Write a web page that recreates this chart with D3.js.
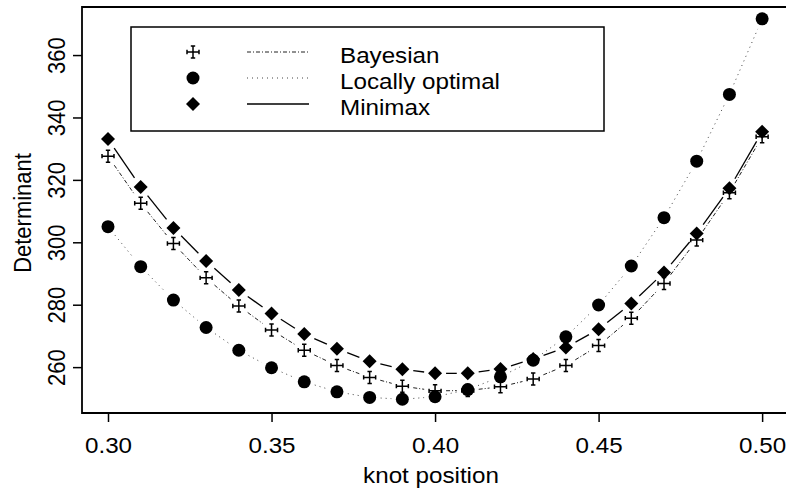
<!DOCTYPE html>
<html>
<head>
<meta charset="utf-8">
<script src="https://cdn.jsdelivr.net/npm/d3@7"></script>
<style>
  body { margin: 0; background: #fff; }
  svg { display: block; font-family: "Liberation Sans", Arial, sans-serif; }
</style>
</head>
<body>
<div id="chart"></div>
<script>
// knot positions and determinant values
const knots = [0.30, 0.31, 0.32, 0.33, 0.34, 0.35, 0.36, 0.37, 0.38, 0.39, 0.40,
               0.41, 0.42, 0.43, 0.44, 0.45, 0.46, 0.47, 0.48, 0.49, 0.50];
const bayesian = [327.6, 312.5, 299.6, 288.6, 279.6, 271.9, 265.4, 260.5, 256.7, 253.9, 252.4,
                  252.5, 253.7, 256.2, 260.5, 266.9, 275.7, 286.8, 300.7, 315.9, 333.8];
const locallyOptimal = [305.0, 292.2, 281.5, 272.7, 265.4, 259.8, 255.3, 252.1, 250.3, 249.7, 250.5,
                        252.8, 256.9, 262.2, 269.7, 279.9, 292.4, 307.9, 326.0, 347.4, 371.6];
const minimax = [333.1, 317.7, 304.6, 294.0, 284.7, 277.2, 270.6, 265.9, 261.9, 259.3, 258.0,
                 258.0, 259.4, 262.6, 266.3, 272.1, 280.4, 290.3, 302.8, 317.3, 335.4];

const xTicks = [0.30, 0.35, 0.40, 0.45, 0.50];
const yTicks = [260, 280, 300, 320, 340, 360];
const seriesNames = ['Bayesian', 'Locally optimal', 'Minimax'];

const width = 786;
const height = 490;
const plot = { left: 82, top: 7, right: 786, bottom: 413 };
const fontSize = '22px';

const svg = d3.select('#chart').append('svg')
  .attr('width', width)
  .attr('height', height);

const xScale = d3.scaleLinear()
  .domain([0.29205, 0.5073])
  .range([plot.left, plot.right]);

const yScale = d3.scaleLinear()
  .domain([245.3, 375.4])
  .range([plot.bottom, plot.top]);

const series = [
  { name: seriesNames[0], values: bayesian, marker: 'cross', dash: '4,2,1,2', color: '#222', width: 1 },
  { name: seriesNames[1], values: locallyOptimal, marker: 'circle', dash: '1,4', color: '#444', width: 1 },
  { name: seriesNames[2], values: minimax, marker: 'diamond', dash: null, color: '#000', width: 1.3 },
];

// axes
const xAxis = svg.append('g')
  .attr('transform', `translate(0, ${plot.bottom})`)
  .call(d3.axisBottom(xScale).tickValues(xTicks).tickFormat(d3.format('.2f')).tickSize(9).tickSizeOuter(0));
xAxis.select('.domain').remove();
xAxis.selectAll('line').attr('stroke', '#000').attr('stroke-width', 1.5);
xAxis.selectAll('text')
  .attr('y', 0).attr('dy', 0)
  .attr('transform', 'translate(0, 40) scale(1.1, 1)')
  .style('font-size', fontSize)
  .attr('fill', '#000');

const yAxis = svg.append('g')
  .attr('transform', `translate(${plot.left}, 0)`)
  .call(d3.axisLeft(yScale).tickValues(yTicks).tickSize(9).tickSizeOuter(0));
yAxis.select('.domain').remove();
yAxis.selectAll('line').attr('stroke', '#000').attr('stroke-width', 1.5);
yAxis.selectAll('text')
  .attr('x', 0).attr('dy', 0)
  .attr('text-anchor', 'middle')
  .attr('transform', 'translate(-17, 0) scale(1.1, 1) rotate(-90)')
  .style('font-size', fontSize)
  .attr('fill', '#000');

// frame (left, top, bottom)
svg.append('path')
  .attr('d', `M${plot.right},${plot.top}H${plot.left}V${plot.bottom}H${plot.right}`)
  .attr('fill', 'none')
  .attr('stroke', '#000')
  .attr('stroke-width', 1.8);

// axis titles
svg.append('text')
  .attr('transform', 'translate(431, 483) scale(1.1, 1)')
  .attr('text-anchor', 'middle')
  .style('font-size', fontSize)
  .text('knot position');

svg.append('text')
  .attr('transform', 'translate(31, 213) scale(1.1, 1) rotate(-90)')
  .attr('text-anchor', 'middle')
  .style('font-size', fontSize)
  .text('Determinant');

// markers
function drawMarker(g, type, x, y) {
  if (type === 'circle') {
    g.append('circle').attr('cx', x).attr('cy', y).attr('r', 6.5).attr('fill', '#000');
  } else if (type === 'diamond') {
    const s = 7;
    g.append('path')
      .attr('d', `M${x},${y - s}L${x + s},${y}L${x},${y + s}L${x - s},${y}Z`)
      .attr('fill', '#000');
  } else {
    const s = 6, c = 2.2;
    g.append('path')
      .attr('d', `M${x - s},${y}H${x + s}M${x},${y - s}V${y + s}` +
                 `M${x - s},${y - c}V${y + c}M${x + s},${y - c}V${y + c}` +
                 `M${x - c},${y - s}H${x + c}M${x - c},${y + s}H${x + c}`)
      .attr('fill', 'none')
      .attr('stroke', '#000')
      .attr('stroke-width', 1.5);
  }
}

// lines with gaps around the points (R type = "b")
const gap = 11;
series.forEach((s) => {
  const pts = knots.map((k, i) => [xScale(k), yScale(s.values[i])]);
  const g = svg.append('g').attr('class', 'series-line');
  for (let i = 0; i < pts.length - 1; i++) {
    const [x0, y0] = pts[i];
    const [x1, y1] = pts[i + 1];
    const len = Math.hypot(x1 - x0, y1 - y0);
    if (len <= 2 * gap) continue;
    const ux = (x1 - x0) / len, uy = (y1 - y0) / len;
    g.append('line')
      .attr('x1', x0 + ux * gap).attr('y1', y0 + uy * gap)
      .attr('x2', x1 - ux * gap).attr('y2', y1 - uy * gap)
      .attr('stroke', s.color)
      .attr('stroke-width', s.width)
      .attr('stroke-dasharray', s.dash);
  }
});

series.forEach((s) => {
  const g = svg.append('g').attr('class', 'series-points');
  knots.forEach((k, i) => drawMarker(g, s.marker, xScale(k), yScale(s.values[i])));
});

// legend
const legend = svg.append('g');
legend.append('rect')
  .attr('x', 131).attr('y', 27)
  .attr('width', 473).attr('height', 104)
  .attr('fill', '#fff')
  .attr('stroke', '#000')
  .attr('stroke-width', 1.5);

series.forEach((s, i) => {
  const y = 52 + i * 26;
  drawMarker(legend, s.marker, 193, y);
  legend.append('line')
    .attr('x1', 247).attr('x2', 309)
    .attr('y1', y).attr('y2', y)
    .attr('stroke', s.color)
    .attr('stroke-width', s.width)
    .attr('stroke-dasharray', s.dash);
  legend.append('text')
    .attr('transform', `translate(340, ${y + 11}) scale(1.1, 1)`)
    .style('font-size', fontSize)
    .text(s.name);
});
</script>
</body>
</html>
